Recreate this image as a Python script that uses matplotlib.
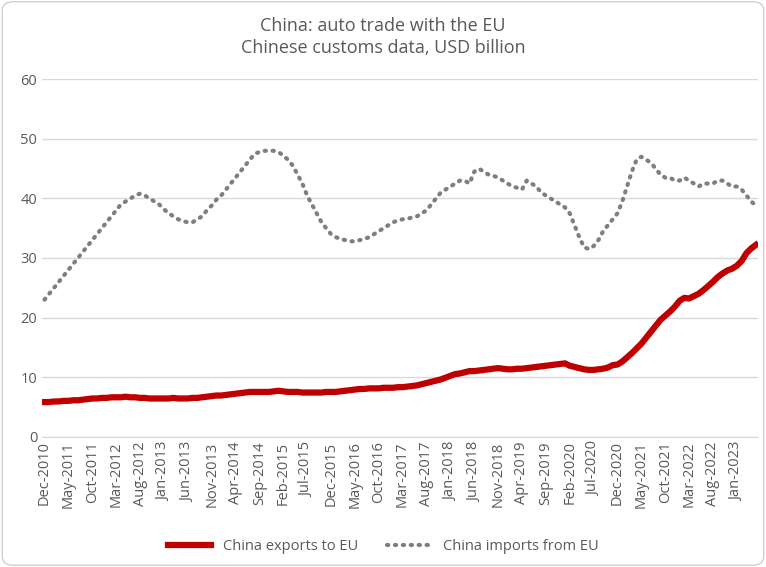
import pandas as pd
import matplotlib.pyplot as plt
from matplotlib.patches import FancyBboxPatch

# monthly values, Dec 2010 .. May 2023 (USD billion, rolling 12m)
exports = [5.8,
    5.8,5.9,5.9,6.0,6.0,6.1,6.1,6.2,6.3,6.4,6.4,6.5,
    6.5,6.6,6.6,6.6,6.7,6.6,6.6,6.5,6.5,6.4,6.4,6.4,
    6.4,6.4,6.5,6.4,6.4,6.4,6.5,6.5,6.6,6.7,6.8,6.9,
    6.9,7.0,7.1,7.2,7.3,7.4,7.5,7.5,7.5,7.5,7.5,7.6,
    7.7,7.6,7.5,7.5,7.5,7.4,7.4,7.4,7.4,7.4,7.5,7.5,
    7.5,7.6,7.7,7.8,7.9,8.0,8.0,8.1,8.1,8.1,8.2,8.2,
    8.2,8.3,8.3,8.4,8.5,8.6,8.8,9.0,9.2,9.4,9.6,9.9,
    10.2,10.5,10.6,10.8,11.0,11.0,11.1,11.2,11.3,11.4,11.5,11.4,
    11.3,11.3,11.4,11.4,11.5,11.6,11.7,11.8,11.9,12.0,12.1,12.2,
    12.3,11.9,11.7,11.5,11.3,11.2,11.2,11.3,11.4,11.6,12.0,12.1,
    12.6,13.3,14.0,14.8,15.6,16.6,17.6,18.6,19.6,20.3,21.0,21.8,
    22.8,23.3,23.2,23.6,24.0,24.6,25.3,26.0,26.8,27.4,27.9,28.2,
    28.7,29.5,30.8,31.6,32.2]
imports = [23.0,
    24.0,25.0,26.0,27.0,28.0,29.0,30.0,31.0,32.0,33.0,34.0,35.0,
    36.0,37.0,38.0,39.0,39.5,40.0,40.5,40.8,40.5,40.0,39.5,39.0,
    38.2,37.5,37.0,36.5,36.2,36.0,36.0,36.5,37.0,38.0,38.8,39.8,
    40.5,41.5,42.5,43.5,44.5,45.5,46.5,47.5,47.8,48.0,48.0,48.0,
    47.8,47.2,46.5,45.5,44.0,42.5,40.5,39.0,37.5,36.0,35.0,34.0,
    33.5,33.2,33.0,32.8,32.8,33.0,33.2,33.5,34.0,34.5,35.0,35.5,
    36.0,36.3,36.5,36.6,36.8,37.0,37.5,38.0,39.0,40.0,41.0,41.5,
    42.0,42.5,43.0,43.0,42.5,44.5,45.0,44.5,44.0,43.8,43.5,43.0,
    42.5,42.0,41.8,41.5,43.0,42.5,42.0,41.0,40.5,40.0,39.5,39.0,
    38.5,37.5,35.5,33.5,31.8,31.5,32.0,33.0,34.5,35.5,36.5,37.5,
    39.5,42.0,44.5,46.5,47.0,46.5,46.0,45.0,44.0,43.5,43.5,43.0,
    43.0,43.5,43.0,42.5,42.0,42.5,42.5,42.5,43.0,43.0,42.5,42.0,
    42.0,41.5,40.5,39.5,38.8]

dates = pd.date_range('2010-12-01', periods=len(exports), freq='MS')
x = range(len(dates))

plt.rcParams['font.family'] = ['Open Sans', 'DejaVu Sans']
fig = plt.figure(figsize=(7.66, 5.67), dpi=100)
border = FancyBboxPatch((0.003, 0.003), 0.994, 0.994, boxstyle='round,pad=0,rounding_size=0.015',
                        transform=fig.transFigure, fc='white', ec='#d0d0d0', lw=1, zorder=-10)
fig.patches.append(border)
ax = fig.add_axes([0.055, 0.23, 0.935, 0.63])
ax.patch.set_alpha(0)

ax.plot(x, exports, color='#c00000', lw=4.5, label='China exports to EU')
ax.plot(x, imports, color='#7f7f7f', lw=3, ls=(0, (0.3, 1.6)), dash_capstyle='round', label='China imports from EU')

ax.set_ylim(0, 60)
ax.set_yticks(range(0, 61, 10))
ax.set_xlim(-0.5, len(dates) - 0.5)
ticks = list(range(0, len(dates), 5))
ax.set_xticks(ticks)
ax.set_xticklabels([dates[i].strftime('%b-%Y') for i in ticks], rotation=90)
ax.tick_params(colors='#595959', labelsize=10.5, length=0)
ax.grid(axis='y', color='#d9d9d9', lw=1)
ax.set_axisbelow(True)
for s in ['top', 'right', 'left']:
    ax.spines[s].set_visible(False)
ax.spines['bottom'].set_color('#d9d9d9')

fig.text(0.5, 0.935, 'China: auto trade with the EU\nChinese customs data, USD billion', ha='center', va='center',
         color='#595959', fontsize=13, linespacing=1.3)
fig.legend(loc='lower center', bbox_to_anchor=(0.5, 0.0), ncol=2, frameon=False, fontsize=10.5,
           labelcolor='#595959', handlelength=3)

fig.savefig('out.png', dpi=100)
